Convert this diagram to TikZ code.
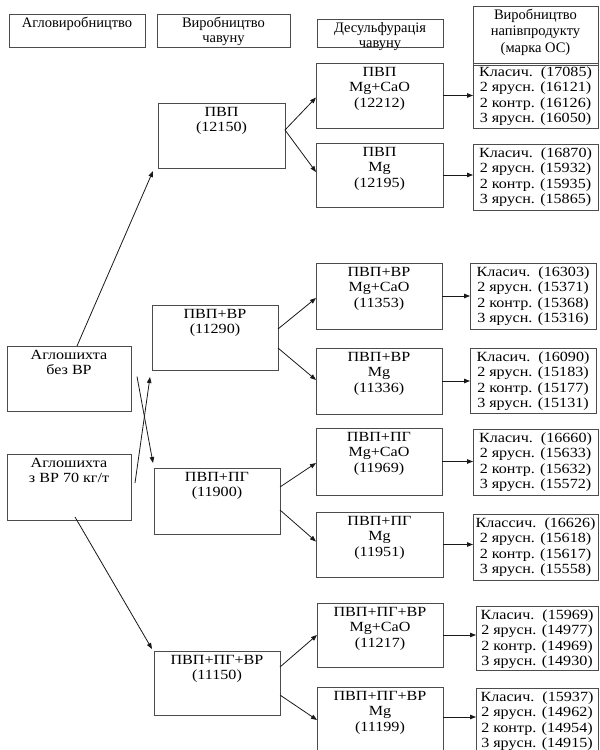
\documentclass[tikz,border=0pt]{standalone}
\usepackage{fontspec}
\setmainfont{Liberation Serif}
\newfontfamily\widefont{Liberation Serif}[FakeStretch=1.15]
\usetikzlibrary{arrows.meta,calc}
\newcommand\bx[3]{\parbox[c][#2][t]{#1}{\centering\rule{0pt}{13pt}#3}}
\begin{document}
\begin{tikzpicture}[x=1pt,y=-1pt,
  box/.style={draw=black!70, line width=0.9pt, inner sep=0pt, outer sep=0pt, anchor=north west,
    font=\widefont\fontsize{14}{15.5}\selectfont},
  hbox/.style={box, font=\fontsize{14.5}{15.5}\selectfont},
  arr/.style={-{Triangle[length=6pt,width=4.5pt]}, line width=0.8pt, black!90}]
\useasboundingbox (0,0) rectangle (600,750);
\clip (0,0) rectangle (600,750);
% headers
\node[hbox] (h1) at (9,14) {\bx{136pt}{33pt}{Агловиробництво}};
\node[hbox] (h2) at (157,14) {\bx{133pt}{33pt}{Виробництво\\чавуну}};
\node[hbox] (h3) at (317,19) {\bx{126pt}{28pt}{\rule{0pt}{10pt}Десульфурація\\чавуну}};
\node[hbox, font=\fontsize{14.5}{16.5}\selectfont] (h4) at (473,6) {\bx{125pt}{59pt}{\rule{0pt}{12pt}Виробництво\\напівпродукту\\(марка ОС)}};
% sources
\node[box] (s1) at (7,346) {\bx{124pt}{65pt}{Аглошихта\\без ВР}};
\node[box] (s2) at (7,454) {\bx{124pt}{66pt}{Аглошихта\\з ВР 70 кг/т}};
% iron production
\node[box] (p1) at (158,103) {\bx{127pt}{65pt}{ПВП\\(12150)}};
\node[box] (p2) at (152,305) {\bx{126pt}{65pt}{ПВП+ВР\\(11290)}};
\node[box] (p3) at (154,468) {\bx{126pt}{66pt}{ПВП+ПГ\\(11900)}};
\node[box] (p4) at (154,651) {\bx{126pt}{64pt}{ПВП+ПГ+ВР\\(11150)}};
% desulfurization
\node[box] (d1) at (316,63) {\bx{127pt}{65pt}{ПВП\\Mg+CaO\\(12212)}};
\node[box] (d2) at (316,143) {\bx{127pt}{64pt}{ПВП\\Mg\\(12195)}};
\node[box] (d3) at (316,263) {\bx{126pt}{66pt}{ПВП+ВР\\Mg+CaO\\(11353)}};
\node[box] (d4) at (316,348) {\bx{126pt}{66pt}{ПВП+ВР\\Mg\\(11336)}};
\node[box] (d5) at (316,428) {\bx{126pt}{67pt}{ПВП+ПГ\\Mg+CaO\\(11969)}};
\node[box] (d6) at (316,512) {\bx{127pt}{65pt}{ПВП+ПГ\\Mg\\(11951)}};
\node[box] (d7) at (317,603) {\bx{126pt}{64pt}{ПВП+ПГ+ВР\\Mg+CaO\\(11217)}};
\node[box] (d8) at (317,687) {\bx{126pt}{70pt}{ПВП+ПГ+ВР\\Mg\\(11199)}};
% results
\node[box] (r1) at (473,63) {\bx{125pt}{65pt}{Класич.\ \ (17085)\\2 ярусн. (16121)\\2 контр. (16126)\\3 ярусн. (16050)}};
\node[box] (r2) at (473,144) {\bx{125pt}{66pt}{Класич.\ \ (16870)\\2 ярусн. (15932)\\2 контр. (15935)\\3 ярусн. (15865)}};
\node[box] (r3) at (470,263) {\bx{126pt}{66pt}{Класич.\ \ (16303)\\2 ярусн. (15371)\\2 контр. (15368)\\3 ярусн. (15316)}};
\node[box] (r4) at (470,348) {\bx{126pt}{65pt}{Класич.\ \ (16090)\\2 ярусн. (15183)\\2 контр. (15177)\\3 ярусн. (15131)}};
\node[box] (r5) at (473,429) {\bx{125pt}{66pt}{Класич.\ \ (16660)\\2 ярусн. (15633)\\2 контр. (15632)\\3 ярусн. (15572)}};
\node[box] (r6) at (473,514) {\bx{125pt}{66pt}{Классич.\ \ (16626)\\2 ярусн. (15618)\\2 контр. (15617)\\3 ярусн. (15558)}};
\node[box] (r7) at (476,606) {\bx{122pt}{64pt}{Класич.\ \ (15969)\\2 ярусн. (14977)\\2 контр. (14969)\\3 ярусн. (14930)}};
\node[box] (r8) at (476,688) {\bx{122pt}{70pt}{Класич.\ \ (15937)\\2 ярусн. (14962)\\2 контр. (14954)\\3 ярусн. (14915)}};
% sources -> iron
\draw[arr] ($(s1.north)+(8,0)$) -- ($(p1.south west)+(-5,3)$);
\draw[arr] ($(s1.east)+(6,-2)$) -- ($(p3.north west)+(-1,-5)$);
\draw[arr] ($(s2.north east)+(4,29)$) -- ($(p2.south west)+(-2,7)$);
\draw[arr] ($(s2.south)+(6,-3)$) -- ($(p4.north west)+(-2,-2)$);
% iron -> desulfurization
\draw[arr] ($(p1.east)+(0,-5.5)$) -- ($(d1.west)+(0,2)$);
\draw[arr] ($(p1.east)+(0,-5.5)$) -- ($(d2.west)+(0,-3)$);
\draw[arr] ($(p2.east)+(0,-8.5)$) -- ($(d3.west)+(0,2)$);
\draw[arr] ($(p2.east)+(0,10.5)$) -- ($(d4.west)+(0,-1)$);
\draw[arr] ($(p3.east)+(0,-14)$) -- ($(d5.west)+(0,1.5)$);
\draw[arr] ($(p3.east)+(0,9)$) -- ($(d6.west)+(0,-3)$);
\draw[arr] ($(p4.east)+(0,-16)$) -- (d7.west);
\draw[arr] ($(p4.east)+(0,12)$) -- ($(d8.west)+(0,-2)$);
% desulfurization -> results
\draw[arr] (d1.east) -- (d1.east -| r1.west);
\draw[arr] (d2.east) -- (d2.east -| r2.west);
\draw[arr] (d3.east) -- (d3.east -| r3.west);
\draw[arr] (d4.east) -- (d4.east -| r4.west);
\draw[arr] (d5.east) -- (d5.east -| r5.west);
\draw[arr] (d6.east) -- (d6.east -| r6.west);
\draw[arr] (d7.east) -- (d7.east -| r7.west);
\draw[arr] ($(d8.east)+(0,-5)$) -- ($(d8.east -| r8.west)+(0,-5)$);
\end{tikzpicture}
\end{document}
